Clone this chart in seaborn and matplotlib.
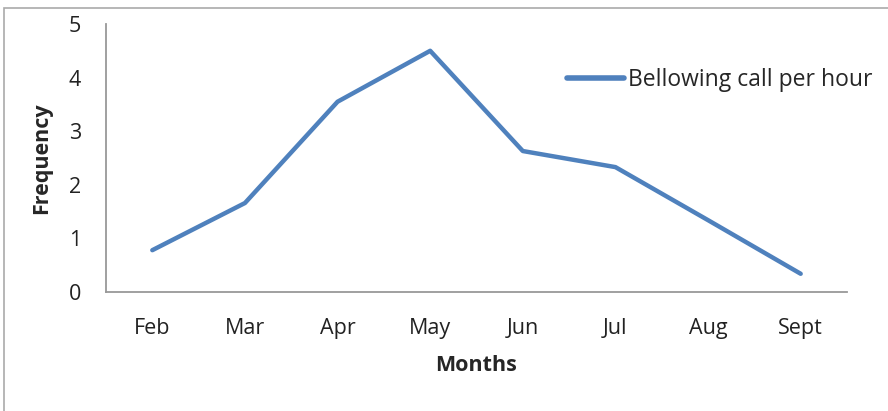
import pandas as pd
import seaborn as sns
import matplotlib.pyplot as plt
from matplotlib.patches import Rectangle

MONTHS = ["Feb", "Mar", "Apr", "May", "Jun", "Jul", "Aug", "Sept"]
CALLS = [0.78, 1.66, 3.55, 4.50, 2.63, 2.33, 1.34, 0.34]
SERIES = "Bellowing call per hour"

data = pd.DataFrame({"month": MONTHS, "calls": CALLS, "series": SERIES})

sns.set_style("white")
plt.rcParams["font.family"] = ["Open Sans", "DejaVu Sans"]

fig = plt.figure(figsize=(8.88, 4.11), dpi=100)
ax = fig.add_axes([106 / 888, 1 - 292 / 411, 741 / 888, 268 / 411])

sns.lineplot(data=data, x="month", y="calls", hue="series",
             palette=["#4F81BD"], linewidth=3.2, sort=False, ax=ax)

ax.set_xlim(-0.5, 7.5)
ax.set_ylim(0, 5)
ax.set_yticks(range(6))
ax.tick_params(axis="both", labelsize=15.5, length=0, colors="#222222")
ax.tick_params(axis="x", pad=19)
ax.tick_params(axis="y", pad=18)
for side in ["top", "right"]:
    ax.spines[side].set_visible(False)
for side in ["left", "bottom"]:
    ax.spines[side].set_color("#999999")
    ax.spines[side].set_linewidth(1.3)

ax.set_xlabel("Months", fontsize=15.5, fontweight="bold", labelpad=11)
ax.set_ylabel("Frequency", fontsize=15.5, fontweight="bold", labelpad=12)

leg = ax.legend(loc="center left", bbox_to_anchor=(0.594, 0.79), frameon=False,
                fontsize=16.5, handlelength=2.5, handletextpad=0.15)
leg.get_lines()[0].set_linewidth(4)

fig.patches.append(Rectangle((4 / 888, -0.1), 1.1, 1.1 - 8 / 411,
                             transform=fig.transFigure, fill=False,
                             edgecolor="#aaaaaa", linewidth=1.2))

fig.savefig("out.png", dpi=100)
